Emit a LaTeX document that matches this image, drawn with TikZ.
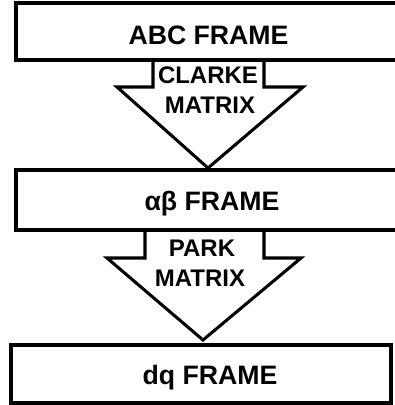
\documentclass[tikz,border=0pt]{standalone}
\usepackage{fontspec}
\setmainfont{Liberation Sans}
\begin{document}
\begin{tikzpicture}[x=0.75pt,y=-0.75pt,
  outline/.style={draw=black,line width=2.3pt,line join=miter},
  frametext/.style={font=\bfseries\fontsize{20}{24}\selectfont,inner sep=0pt,anchor=center},
  matrixtext/.style={font=\bfseries\fontsize{18}{22}\selectfont,inner sep=0pt,anchor=center}]
\useasboundingbox (0,0) rectangle (395,405);
\clip (0,0) rectangle (395,405);

% block arrow: Clarke transform
\draw[outline] (153,60) -- (153,87) -- (117,87) -- (208,168) -- (303,87) -- (264,87) -- (264,60);
% block arrow: Park transform
\draw[outline] (145,230) -- (145,258) -- (107,258) -- (203,340) -- (301,258) -- (264,258) -- (264,230);

% frame boxes
\draw[outline] (16,3) rectangle (420,60);
\draw[outline] (16,170) rectangle (420,230);
\draw[outline] (11,345) rectangle (391,403);

% labels
\node[frametext] (abc) at (208.5,35.5) {ABC FRAME};
\node[matrixtext] (clarke) at (208,75.5) {CLARKE};
\node[matrixtext] (clarkem) at (210,105) {MATRIX};
\node[frametext] (ab) at (212,203.5) {αβ FRAME};
\node[matrixtext] (park) at (202,248) {PARK};
\node[matrixtext] (parkm) at (200,278.5) {MATRIX};
\node[frametext] (dq) at (210,377.5) {dq FRAME};
\end{tikzpicture}
\end{document}
